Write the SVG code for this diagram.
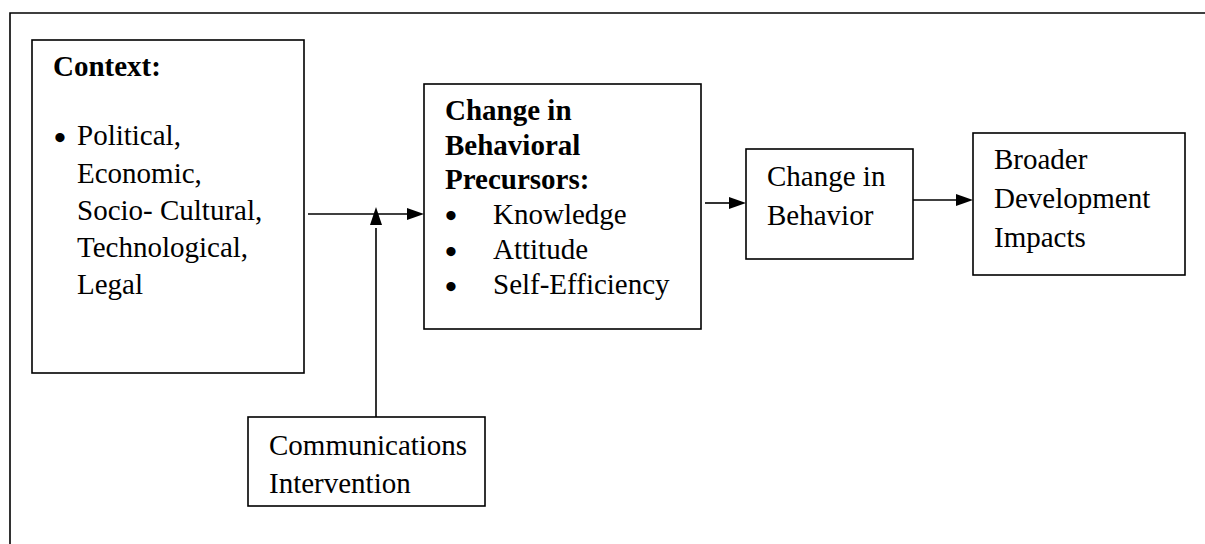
<svg xmlns="http://www.w3.org/2000/svg" width="1205" height="544" viewBox="0 0 1205 544">
<defs>
<style>
.box{fill:#fff;stroke:#000;stroke-width:1.6}
.t{font-family:"Liberation Serif","Times New Roman",serif;font-size:29px;fill:#000}
.b{font-weight:bold}
.bu{font-family:"Liberation Serif","Times New Roman",serif;font-size:34px;font-weight:bold;fill:#000}
.ln{stroke:#000;stroke-width:1.6;fill:none}
.ah{fill:#000;stroke:none}
</style>
</defs>
<rect x="0" y="0" width="1205" height="544" fill="#fff"/>
<path class="ln" d="M10,560 V13 H1220"/>
<g id="context">
<rect class="box" x="32" y="40" width="272" height="333"/>
<text class="t b" x="53" y="76">Context:</text>
<text class="bu" x="54" y="149">•</text>
<text class="t" x="77" y="145">Political,</text>
<text class="t" x="77" y="183">Economic,</text>
<text class="t" x="77" y="220">Socio- Cultural,</text>
<text class="t" x="77" y="257">Technological,</text>
<text class="t" x="77" y="294">Legal</text>
</g>
<g id="precursors">
<rect class="box" x="424" y="84" width="277" height="245"/>
<text class="t b" x="445" y="120">Change in</text>
<text class="t b" x="445" y="155">Behavioral</text>
<text class="t b" x="445" y="189">Precursors:</text>
<text class="bu" x="445" y="227">•</text>
<text class="t" x="493" y="224">Knowledge</text>
<text class="bu" x="445" y="263">•</text>
<text class="t" x="493" y="259">Attitude</text>
<text class="bu" x="445" y="298">•</text>
<text class="t" x="493" y="294">Self-Efficiency</text>
</g>
<g id="behavior">
<rect class="box" x="746" y="149" width="167" height="110"/>
<text class="t" x="767" y="186">Change in</text>
<text class="t" x="767" y="225">Behavior</text>
</g>
<g id="impacts">
<rect class="box" x="973" y="133" width="212" height="142"/>
<text class="t" x="994" y="169">Broader</text>
<text class="t" x="994" y="208">Development</text>
<text class="t" x="994" y="247">Impacts</text>
</g>
<g id="intervention">
<rect class="box" x="248" y="417" width="237" height="89"/>
<text class="t" x="269" y="455">Communications</text>
<text class="t" x="269" y="493">Intervention</text>
</g>
<g id="connectors">
<line class="ln" x1="308" y1="214" x2="410" y2="214"/>
<polygon class="ah" points="424,214 407,208 407,220"/>
<line class="ln" x1="376" y1="417" x2="376" y2="228"/>
<polygon class="ah" points="376,207 370,225 382,225"/>
<line class="ln" x1="705" y1="203" x2="732" y2="203"/>
<polygon class="ah" points="746,203 729,197 729,209"/>
<line class="ln" x1="913" y1="200" x2="958" y2="200"/>
<polygon class="ah" points="973,200 956,194 956,206"/>
</g>
</svg>
